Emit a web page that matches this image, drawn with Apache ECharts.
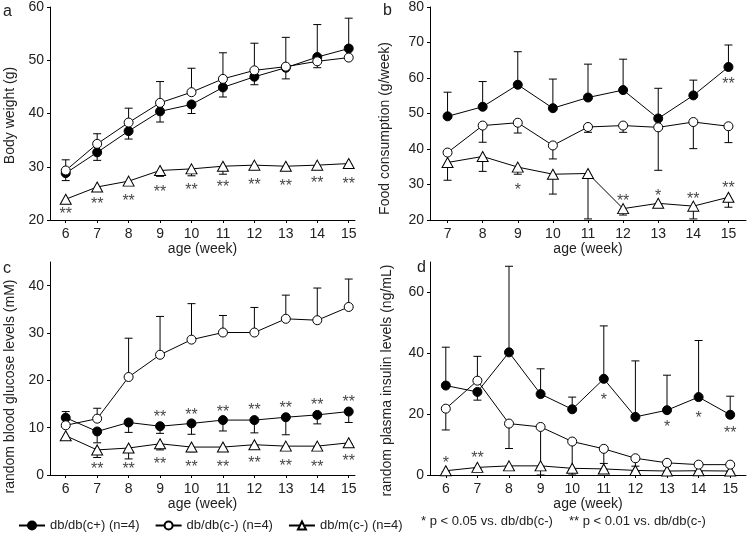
<!DOCTYPE html>
<html><head><meta charset="utf-8">
<script src="https://cdn.jsdelivr.net/npm/echarts@6/dist/echarts.min.js"></script>
<style>html,body{margin:0;padding:0;background:#fff}#c{width:747px;height:534px}</style>
</head><body><div id="c"></div>
<script>
// ---------- data ----------
const weeks6 = [6, 7, 8, 9, 10, 11, 12, 13, 14, 15];
const weeks7 = [7, 8, 9, 10, 11, 12, 13, 14, 15];
const xTicks6 = [6, 7, 8, 9, 10, 11, 12, 13, 14, 15];
const xTicks7 = [7, 8, 9, 10, 11, 12, 13, 14, 15];
const yTicksA = [20, 30, 40, 50, 60];
const yTicksB = [20, 30, 40, 50, 60, 70, 80];
const yTicksC = [0, 10, 20, 30, 40];
const yTicksD = [0, 20, 40, 60];
const groupNames = ['db/db(c+) (n=4)', 'db/db(c-) (n=4)', 'db/m(c-) (n=4)'];

// a: body weight (g); errors signed (+ up, - down)
const bwPlus = [28.8, 32.7, 36.7, 40.4, 41.7, 44.9, 46.9, 48.6, 50.6, 52.2];
const bwPlusErr = [-1.4, -1.5, -1.5, -2.0, -1.7, -1.8, -1.5, -2.1, -2.0, 0];
const bwMinus = [29.3, 34.3, 38.3, 42.0, 44.0, 46.5, 48.1, 48.8, 49.8, 50.5];
const bwMinusErr = [2.0, 1.9, 2.7, 4.0, 4.5, 4.9, 5.1, 5.5, 6.9, 7.4];
const bwM = [23.9, 26.2, 27.3, 29.3, 29.6, 30.1, 30.3, 30.1, 30.3, 30.6];
const bwMErr = [-0.4, -0.4, -0.5, -1.1, -1.3, -1.5, -0.5, -0.3, -0.3, -0.3];
const starsA = [[6, 21.7, '**'], [7, 23.6, '**'], [8, 24.3, '**'], [9, 25.9, '**'], [10, 26.2, '**'],
                [11, 26.8, '**'], [12, 27.2, '**'], [13, 27.0, '**'], [14, 27.6, '**'], [15, 27.4, '**']];

// b: food consumption (g/week)
const fcPlus = [49.2, 51.9, 58.1, 51.5, 54.5, 56.6, 48.6, 55.1, 63.1];
const fcPlusErr = [6.8, 7.1, 9.3, 8.2, 9.4, 8.7, 8.5, 4.3, 6.2];
const fcMinus = [39.0, 46.6, 47.4, 41.0, 46.2, 46.6, 46.1, 47.6, 46.4];
const fcMinusErr = [-0.5, -4.7, -2.9, -3.8, -1.5, -1.9, -12.1, -7.5, -4.6];
const fcM = [36.2, 37.9, 34.9, 32.9, 33.1, 23.2, 24.7, 23.9, 26.4];
const fcMErr = [-5.0, -4.2, -2.0, -5.6, -12.8, -1.8, -0.3, -3.6, -2.8];
const starsB = [[9, 29.3, '*'], [12, 26.3, '**'], [13, 27.7, '*'], [14, 27.0, '**'], [15, 30.0, '**'], [15, 59.4, '**']];

// c: random blood glucose (mM)
const glPlus = [12.1, 9.2, 11.1, 10.3, 10.9, 11.6, 11.6, 12.2, 12.7, 13.4];
const glPlusErr = [1.3, -2.4, -2.1, -1.5, -2.3, -2.3, -2.7, -3.7, -1.9, -2.3];
const glMinus = [10.5, 11.9, 20.7, 25.4, 28.6, 30.1, 30.1, 33.0, 32.7, 35.5];
const glMinusErr = [0, 2.2, 8.2, 8.1, 7.6, 3.6, 5.3, 5.0, 6.8, 5.9];
const glM = [8.3, 5.3, 5.7, 6.6, 5.9, 5.9, 6.4, 6.1, 6.1, 6.8];
const glMErr = [-0.8, -1.6, -2.3, -1.3, -1.0, -0.5, -0.3, -0.3, -0.3, -0.3];
const starsC = [[9, 12.9, '**'], [10, 13.4, '**'], [11, 14.1, '**'], [12, 14.5, '**'], [13, 14.8, '**'], [14, 15.5, '**'], [15, 16.1, '**'],
                [7, 2.0, '**'], [8, 2.0, '**'], [9, 3.0, '**'], [10, 2.4, '**'], [11, 2.5, '**'], [12, 3.3, '**'], [13, 2.7, '**'], [14, 2.5, '**'], [15, 3.6, '**']];

// d: random plasma insulin (ng/mL)
const inPlus = [29.4, 27.3, 40.3, 26.6, 21.6, 31.6, 19.1, 21.3, 25.6, 19.8];
const inPlusErr = [12.6, -2.7, 28.3, 8.3, 4.0, 17.4, 18.4, 11.5, 18.6, 6.1];
const inMinus = [21.8, 31.0, 16.9, 15.8, 11.0, 8.6, 5.5, 4.0, 3.4, 3.4];
const inMinusErr = [-7.0, 8.0, -8.2, -15.8, -11.0, -4.8, -2.6, -1.0, -0.5, -0.5];
const inM = [1.4, 2.5, 3.0, 3.0, 2.2, 2.0, 1.5, 1.3, 1.4, 1.3];
const inMErr = [-0.3, -0.4, -0.5, -0.5, -0.4, -0.4, -0.3, -0.3, -0.3, -0.3];
const starsD = [[6, 5.2, '*'], [7, 6.6, '**'], [11, 25.9, '*'], [13, 16.8, '*'], [14, 19.7, '*'], [15, 15.0, '**']];

// ---------- chart ----------
const FONT = "'Liberation Sans', Arial, sans-serif";
const TXT = '#222';
const panels = [
  {grid: {left: 50, top: 6, width: 305, height: 214}, xmin: 5.5, xmax: 15.2, xt: xTicks6, ymin: 20, ymax: 60, yt: yTicksA,
   yname: 'Body weight (g)', ygap: 33, yshift: 4, weeks: weeks6,
   vals: [bwPlus, bwMinus, bwM], errs: [bwPlusErr, bwMinusErr, bwMErr], stars: starsA},
  {grid: {left: 430, top: 6, width: 316, height: 214}, xmin: 6.5, xmax: 15.5, xt: xTicks7, ymin: 20, ymax: 80, yt: yTicksB,
   yname: 'Food consumption (g/week)', ygap: 38, yshift: 30, weeks: weeks7,
   vals: [fcPlus, fcMinus, fcM], errs: [fcPlusErr, fcMinusErr, fcMErr], stars: starsB},
  {grid: {left: 50, top: 262, width: 305, height: 213}, xmin: 5.5, xmax: 15.2, xt: xTicks6, ymin: 0, ymax: 45, yt: yTicksC,
   yname: 'random blood glucose levels (mM)', ygap: 33, yshift: 36, weeks: weeks6,
   vals: [glPlus, glMinus, glM], errs: [glPlusErr, glMinusErr, glMErr], stars: starsC},
  {grid: {left: 430, top: 262, width: 316, height: 213}, xmin: 5.5, xmax: 15.5, xt: xTicks6, ymin: 0, ymax: 70, yt: yTicksD,
   yname: 'random plasma insulin levels (ng/mL)', ygap: 36, yshift: 24, weeks: weeks6,
   vals: [inPlus, inMinus, inM], errs: [inPlusErr, inMinusErr, inMErr], stars: starsD}
];

const symbolStyles = [
  {symbol: 'circle', symbolSize: 9, itemStyle: {color: '#000', borderColor: '#000', borderWidth: 1}},
  {symbol: 'circle', symbolSize: 9, itemStyle: {color: '#fff', borderColor: '#000', borderWidth: 1}},
  {symbol: 'triangle', symbolSize: [11, 10], itemStyle: {color: '#fff', borderColor: '#000', borderWidth: 1}}
];

function errRender(params, api) {
  const x = api.value(0), y = api.value(1), e = api.value(2);
  const p0 = api.coord([x, y]);
  const p1 = api.coord([x, y + e]);
  const hw = 4;
  return {type: 'group', children: [
    {type: 'line', shape: {x1: p0[0], y1: p0[1], x2: p1[0], y2: p1[1]}, style: {stroke: '#000', lineWidth: 1}},
    {type: 'line', shape: {x1: p1[0] - hw, y1: p1[1], x2: p1[0] + hw, y2: p1[1]}, style: {stroke: '#000', lineWidth: 1}}
  ]};
}

const grids = [], xAxes = [], yAxes = [], series = [];
panels.forEach((p, i) => {
  grids.push(p.grid);
  xAxes.push({
    type: 'value', gridIndex: i, min: p.xmin, max: p.xmax,
    name: 'age (week)', nameLocation: 'middle', nameGap: 21,
    nameTextStyle: {fontFamily: FONT, fontSize: 14, color: TXT},
    axisLine: {show: true, onZero: false, lineStyle: {color: '#000', width: 1}},
    axisTick: {show: true, length: 3, lineStyle: {color: '#000'}, customValues: p.xt},
    axisLabel: {fontFamily: FONT, fontSize: 14, color: TXT, margin: 7, customValues: p.xt},
    splitLine: {show: false}
  });
  yAxes.push({
    type: 'value', gridIndex: i, min: p.ymin, max: p.ymax,
    name: p.yname, nameLocation: 'middle', nameGap: p.ygap, nameRotate: 90,
    nameTextStyle: {fontFamily: FONT, fontSize: 14, color: TXT, padding: [0, p.yshift, 0, 0]},
    axisLine: {show: true, onZero: false, lineStyle: {color: '#000', width: 1}},
    axisTick: {show: true, length: 3, lineStyle: {color: '#000'}, customValues: p.yt},
    axisLabel: {fontFamily: FONT, fontSize: 14, color: TXT, margin: 6, customValues: p.yt},
    splitLine: {show: false}
  });
  p.vals.forEach((vals, g) => {
    const errData = p.weeks.map((w, k) => [w, vals[k], p.errs[g][k]]).filter(d => d[2] !== 0);
    series.push({
      type: 'custom', name: 'err' + i + '_' + g, xAxisIndex: i, yAxisIndex: i,
      renderItem: errRender, data: errData, clip: true, z: 1, silent: true
    });
  });
  p.vals.forEach((vals, g) => {
    series.push(Object.assign({
      type: 'line', name: groupNames[g], xAxisIndex: i, yAxisIndex: i,
      data: p.weeks.map((w, k) => [w, vals[k]]),
      lineStyle: {color: '#000', width: 1}, z: 3 + (g === 2 ? 0 : 1), animation: false, silent: true
    }, symbolStyles[g]));
  });
  series.push({
    type: 'scatter', name: 'stars' + i, xAxisIndex: i, yAxisIndex: i, symbolSize: 0, silent: true,
    data: p.stars,
    label: {show: true, position: 'inside', formatter: d => d.data[2], fontFamily: FONT, fontSize: 16, color: '#111', offset: [0, 4]}
  });
});

const chart = echarts.init(document.getElementById('c'), null, {renderer: 'canvas'});
chart.setOption({
  animation: false,
  backgroundColor: '#fff',
  grid: grids, xAxis: xAxes, yAxis: yAxes, series: series,
  legend: {
    data: groupNames, left: 13, top: 514, itemWidth: 26, itemHeight: 10, itemGap: 15,
    textStyle: {fontFamily: FONT, fontSize: 13, color: TXT}
  },
  graphic: [
    {type: 'text', left: 3, top: 4, style: {text: 'a', font: '16px ' + FONT, fill: TXT}},
    {type: 'text', left: 383, top: 3, style: {text: 'b', font: '16px ' + FONT, fill: TXT}},
    {type: 'text', left: 3, top: 261, style: {text: 'c', font: '16px ' + FONT, fill: TXT}},
    {type: 'text', left: 417, top: 260, style: {text: 'd', font: '16px ' + FONT, fill: TXT}},
    {type: 'text', left: 421, top: 515, style: {text: '* p < 0.05 vs. db/db(c-)', font: '13px ' + FONT, fill: TXT}},
    {type: 'text', left: 569, top: 515, style: {text: '** p < 0.01 vs. db/db(c-)', font: '13px ' + FONT, fill: TXT}}
  ]
});
</script></body></html>
